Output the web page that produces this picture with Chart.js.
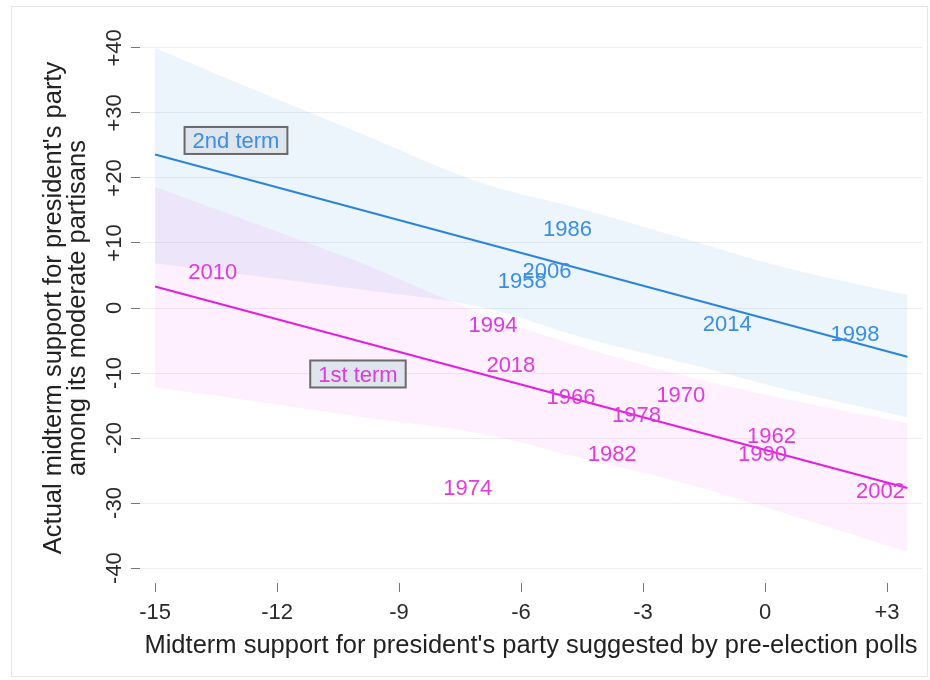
<!DOCTYPE html>
<html><head><meta charset="utf-8">
<script src="https://cdn.jsdelivr.net/npm/chart.js@4.4.1/dist/chart.umd.min.js"></script>
<style>html,body{margin:0;padding:0;background:#fff;} canvas{display:block;}</style>
</head><body>
<canvas id="c" width="930" height="680"></canvas>
<script>
// Axis ticks
const xTicks = [-15, -12, -9, -6, -3, 0, 3];
const yTicks = [-40, -30, -20, -10, 0, 10, 20, 30, 40];

// Confidence bands
const bandX = [-15, -12.5, -10, -7, -4.5, -2, 0.5, 3.5];
const secondTermUpper = [40.0, 33.4, 27.0, 19.3, 15.2, 10.7, 6.2, 2.0];
const secondTermLower = [6.9, 4.9, 2.9, 0.2, -4.5, -8.4, -12.5, -16.8];
const firstTermUpper = [18.6, 12.9, 7.1, -0.8, -6.0, -10.4, -14.0, -17.7];
const firstTermLower = [-12.2, -14.4, -16.7, -19.3, -23.1, -26.9, -31.6, -37.5];

// Fitted lines
const fitX = [-15, 3.5];
const secondTermFit = [23.6, -7.5];
const firstTermFit = [3.3, -27.7];

// Election years (labels placed at their values)
const secondTermYears = ['1986', '2006', '1958', '2014', '1998'];
const secondTermPoll = [-4.86, -5.36, -5.97, -0.93, 2.21];
const secondTermActual = [12.23, 5.85, 4.31, -2.38, -3.92];

const firstTermYears = ['2010', '1994', '2018', '1966', '1978', '1970', '1982', '1974', '1962', '1990', '2002'];
const firstTermPoll = [-13.58, -6.69, -6.25, -4.77, -3.16, -2.07, -3.76, -7.31, 0.16, -0.06, 2.84];
const firstTermActual = [5.62, -2.46, -8.62, -13.54, -16.31, -13.23, -22.31, -27.54, -19.54, -22.38, -28.0];

// Term labels
const termLabels = ['2nd term', '1st term'];
const termLabelX = [-13.01, -10.01];
const termLabelY = [25.77, -10.15];

const BLUE_LINE = '#2b84dc', PINK_LINE = '#e01fe0';
const BLUE_TEXT = '#3a8ee3', PINK_TEXT = '#de3ade';
const FONT = '"Liberation Sans", Arial, Helvetica, sans-serif';

const pts = (xs, ys) => xs.map((x, i) => ({x: x, y: ys[i]}));

const bandBase = {type: 'line', borderWidth: 0, borderColor: 'rgba(0,0,0,0)', pointRadius: 0, tension: 0.35};

const labelPlugin = {
  id: 'labelPlugin',
  beforeDraw(chart) {
    const ctx = chart.ctx;
    ctx.save();
    ctx.fillStyle = '#ffffff';
    ctx.fillRect(0, 0, chart.width, chart.height);
    ctx.strokeStyle = '#e6e6e6';
    ctx.lineWidth = 1;
    ctx.strokeRect(11.5, 6.5, 916, 670);
    ctx.restore();
  },
  afterDatasetsDraw(chart) {
    const ctx = chart.ctx;
    const fs = 22;
    chart.data.datasets.forEach((ds, i) => {
      if (!ds.yearLabels) return;
      const meta = chart.getDatasetMeta(i);
      ctx.save();
      ctx.font = fs + 'px ' + FONT;
      ctx.fillStyle = ds.textColor;
      ctx.textAlign = 'center';
      ctx.textBaseline = 'alphabetic';
      meta.data.forEach((p, j) => {
        ctx.fillText(ds.yearLabels[j], p.x, p.y + 0.358 * fs);
      });
      ctx.restore();
    });
    const xs = chart.scales.x, ys = chart.scales.y;
    const cols = [BLUE_TEXT, PINK_TEXT];
    termLabels.forEach((t, k) => {
      const px = xs.getPixelForValue(termLabelX[k]);
      const py = ys.getPixelForValue(termLabelY[k]);
      ctx.save();
      ctx.font = fs + 'px ' + FONT;
      const w = ctx.measureText(t).width + 16, h = 27;
      ctx.fillStyle = '#dfe5ec';
      ctx.fillRect(px - w / 2, py - h / 2, w, h);
      ctx.strokeStyle = '#6a6a6a';
      ctx.lineWidth = 2;
      ctx.strokeRect(px - w / 2, py - h / 2, w, h);
      ctx.fillStyle = cols[k];
      ctx.textAlign = 'center';
      ctx.textBaseline = 'alphabetic';
      ctx.fillText(t, px, py + 0.358 * fs);
      ctx.restore();
    });
  }
};

new Chart(document.getElementById('c'), {
  type: 'line',
  data: {
    datasets: [
      Object.assign({}, bandBase, {data: pts(bandX, secondTermUpper), fill: '+1', backgroundColor: 'rgba(110,170,235,0.13)', order: 10}),
      Object.assign({}, bandBase, {data: pts(bandX, secondTermLower), fill: false, order: 10}),
      Object.assign({}, bandBase, {data: pts(bandX, firstTermUpper), fill: '+1', backgroundColor: 'rgba(245,120,245,0.11)', order: 9}),
      Object.assign({}, bandBase, {data: pts(bandX, firstTermLower), fill: false, order: 9}),
      {type: 'line', data: pts(fitX, secondTermFit), borderColor: BLUE_LINE, borderWidth: 2, pointRadius: 0, fill: false, order: 2},
      {type: 'line', data: pts(fitX, firstTermFit), borderColor: PINK_LINE, borderWidth: 2, pointRadius: 0, fill: false, order: 2},
      {type: 'line', data: pts(secondTermPoll, secondTermActual), showLine: false, pointRadius: 0, order: 1, yearLabels: secondTermYears, textColor: BLUE_TEXT},
      {type: 'line', data: pts(firstTermPoll, firstTermActual), showLine: false, pointRadius: 0, order: 1, yearLabels: firstTermYears, textColor: PINK_TEXT}
    ]
  },
  options: {
    responsive: false,
    animation: false,
    events: [],
    layout: {padding: {top: 33, right: 8, bottom: 0, left: 0}},
    plugins: {legend: {display: false}, tooltip: {enabled: false}},
    scales: {
      x: {
        type: 'linear',
        min: -15.37, max: 3.86,
        afterBuildTicks: s => { s.ticks = xTicks.map(v => ({value: v})); },
        afterFit: s => { s.height = 97; },
        border: {display: false},
        grid: {drawOnChartArea: false, drawTicks: true, tickLength: 9, tickColor: '#777', tickWidth: 1},
        ticks: {
          font: {family: FONT, size: 22}, color: '#2a2a2a', padding: 8, maxRotation: 0, minRotation: 0,
          callback: v => v > 0 ? '+' + v : String(v)
        },
        title: {display: true, text: "Midterm support for president's party suggested by pre-election polls",
          font: {family: FONT, size: 25.5}, color: '#222', padding: {top: 0, bottom: 19}}
      },
      y: {
        type: 'linear',
        min: -42.3, max: 42.3,
        afterBuildTicks: s => { s.ticks = yTicks.map(v => ({value: v})); },
        afterFit: s => { s.width = 140; },
        border: {display: false},
        grid: {color: '#eceef1', lineWidth: 1, tickLength: 9, tickColor: '#777', tickWidth: 1},
        ticks: {
          font: {family: FONT, size: 22}, color: '#2a2a2a', padding: -3, minRotation: 90, maxRotation: 90, crossAlign: 'center',
          callback: v => v > 0 ? '+' + v : String(v)
        },
        title: {display: true, text: ["Actual midterm support for president's party", 'among its moderate partisans'],
          font: {family: FONT, size: 25.5, lineHeight: 0.94}, color: '#222', padding: {top: 42, bottom: 0}}
      }
    }
  },
  plugins: [labelPlugin]
});
</script>
</body></html>
